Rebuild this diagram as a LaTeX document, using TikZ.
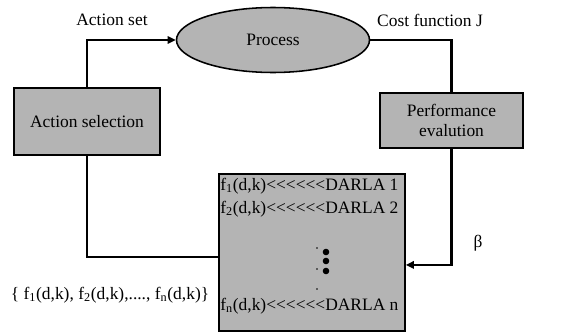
\documentclass[tikz,border=0pt]{standalone}
\usepackage{fontspec}
\setmainfont{Liberation Serif}[Ligatures=TeXOff]
\usetikzlibrary{shapes.geometric,arrows.meta}
\definecolor{boxgray}{RGB}{180,180,180}
\begin{document}
\begin{tikzpicture}[x=0.025cm,y=-0.025cm,font=\fontsize{12.4}{14.5}\selectfont]
	\useasboundingbox (0,0) rectangle (580,335);

	\begin{scope}[every node/.style={draw,line width=1.1pt,fill=boxgray,align=center}]
	\node[rectangle,minimum width=146*0.025cm,minimum height=67*0.025cm] (sel) at (87,121.5) {Action selection};
	\node[ellipse,minimum width=193*0.025cm,minimum height=65*0.025cm] (proc) at (273,40) {Process};
	\node[rectangle,minimum width=143*0.025cm,minimum height=55*0.025cm] (perf) at (451.5,120.5) {Performance\\evalution};
	\node[rectangle,minimum width=186*0.025cm,minimum height=157*0.025cm] (darla) at (312,252.5) {};
	\end{scope}

	\node[anchor=west,inner sep=0pt] (f1) at (220,186) {f\textsubscript{1}(d,k)<<<<<<DARLA 1};
	\node[anchor=west,inner sep=0pt] (f2) at (220,209) {f\textsubscript{2}(d,k)<<<<<<DARLA 2};
	\node[anchor=west,inner sep=0pt] (fn) at (220,306) {f\textsubscript{n}(d,k)<<<<<<DARLA n};

	\fill (317,248) circle (0.9);
	\fill (317,269) circle (0.9);
	\fill (317,289) circle (0.9);
	\fill (326,252) circle (3.3);
	\fill (326,261) circle (3.3);
	\fill (326,271) circle (3.3);

	\node (aset) at (112,20) {Action set};
	\node (cost) at (430,20) {Cost function J};
	\node (beta) at (478,243) {β};
	\node (fset) at (110,295) {\{ f\textsubscript{1}(d,k), f\textsubscript{2}(d,k),...., f\textsubscript{n}(d,k)\}};

	\draw [line width=1.5pt,-{Triangle[length=2mm,width=1.8mm]}] (sel.north) |- (proc.west);
	\draw [line width=1.5pt] (proc.east) -| (perf.north);
	\draw [line width=1.5pt,-{Triangle[length=2mm,width=1.8mm]}] (perf.south) |- ([yshift=-3.1mm]darla.east);
	\draw [line width=1.5pt] (sel.south) |- ([yshift=-1.1mm]darla.west);

\end{tikzpicture}
\end{document}
